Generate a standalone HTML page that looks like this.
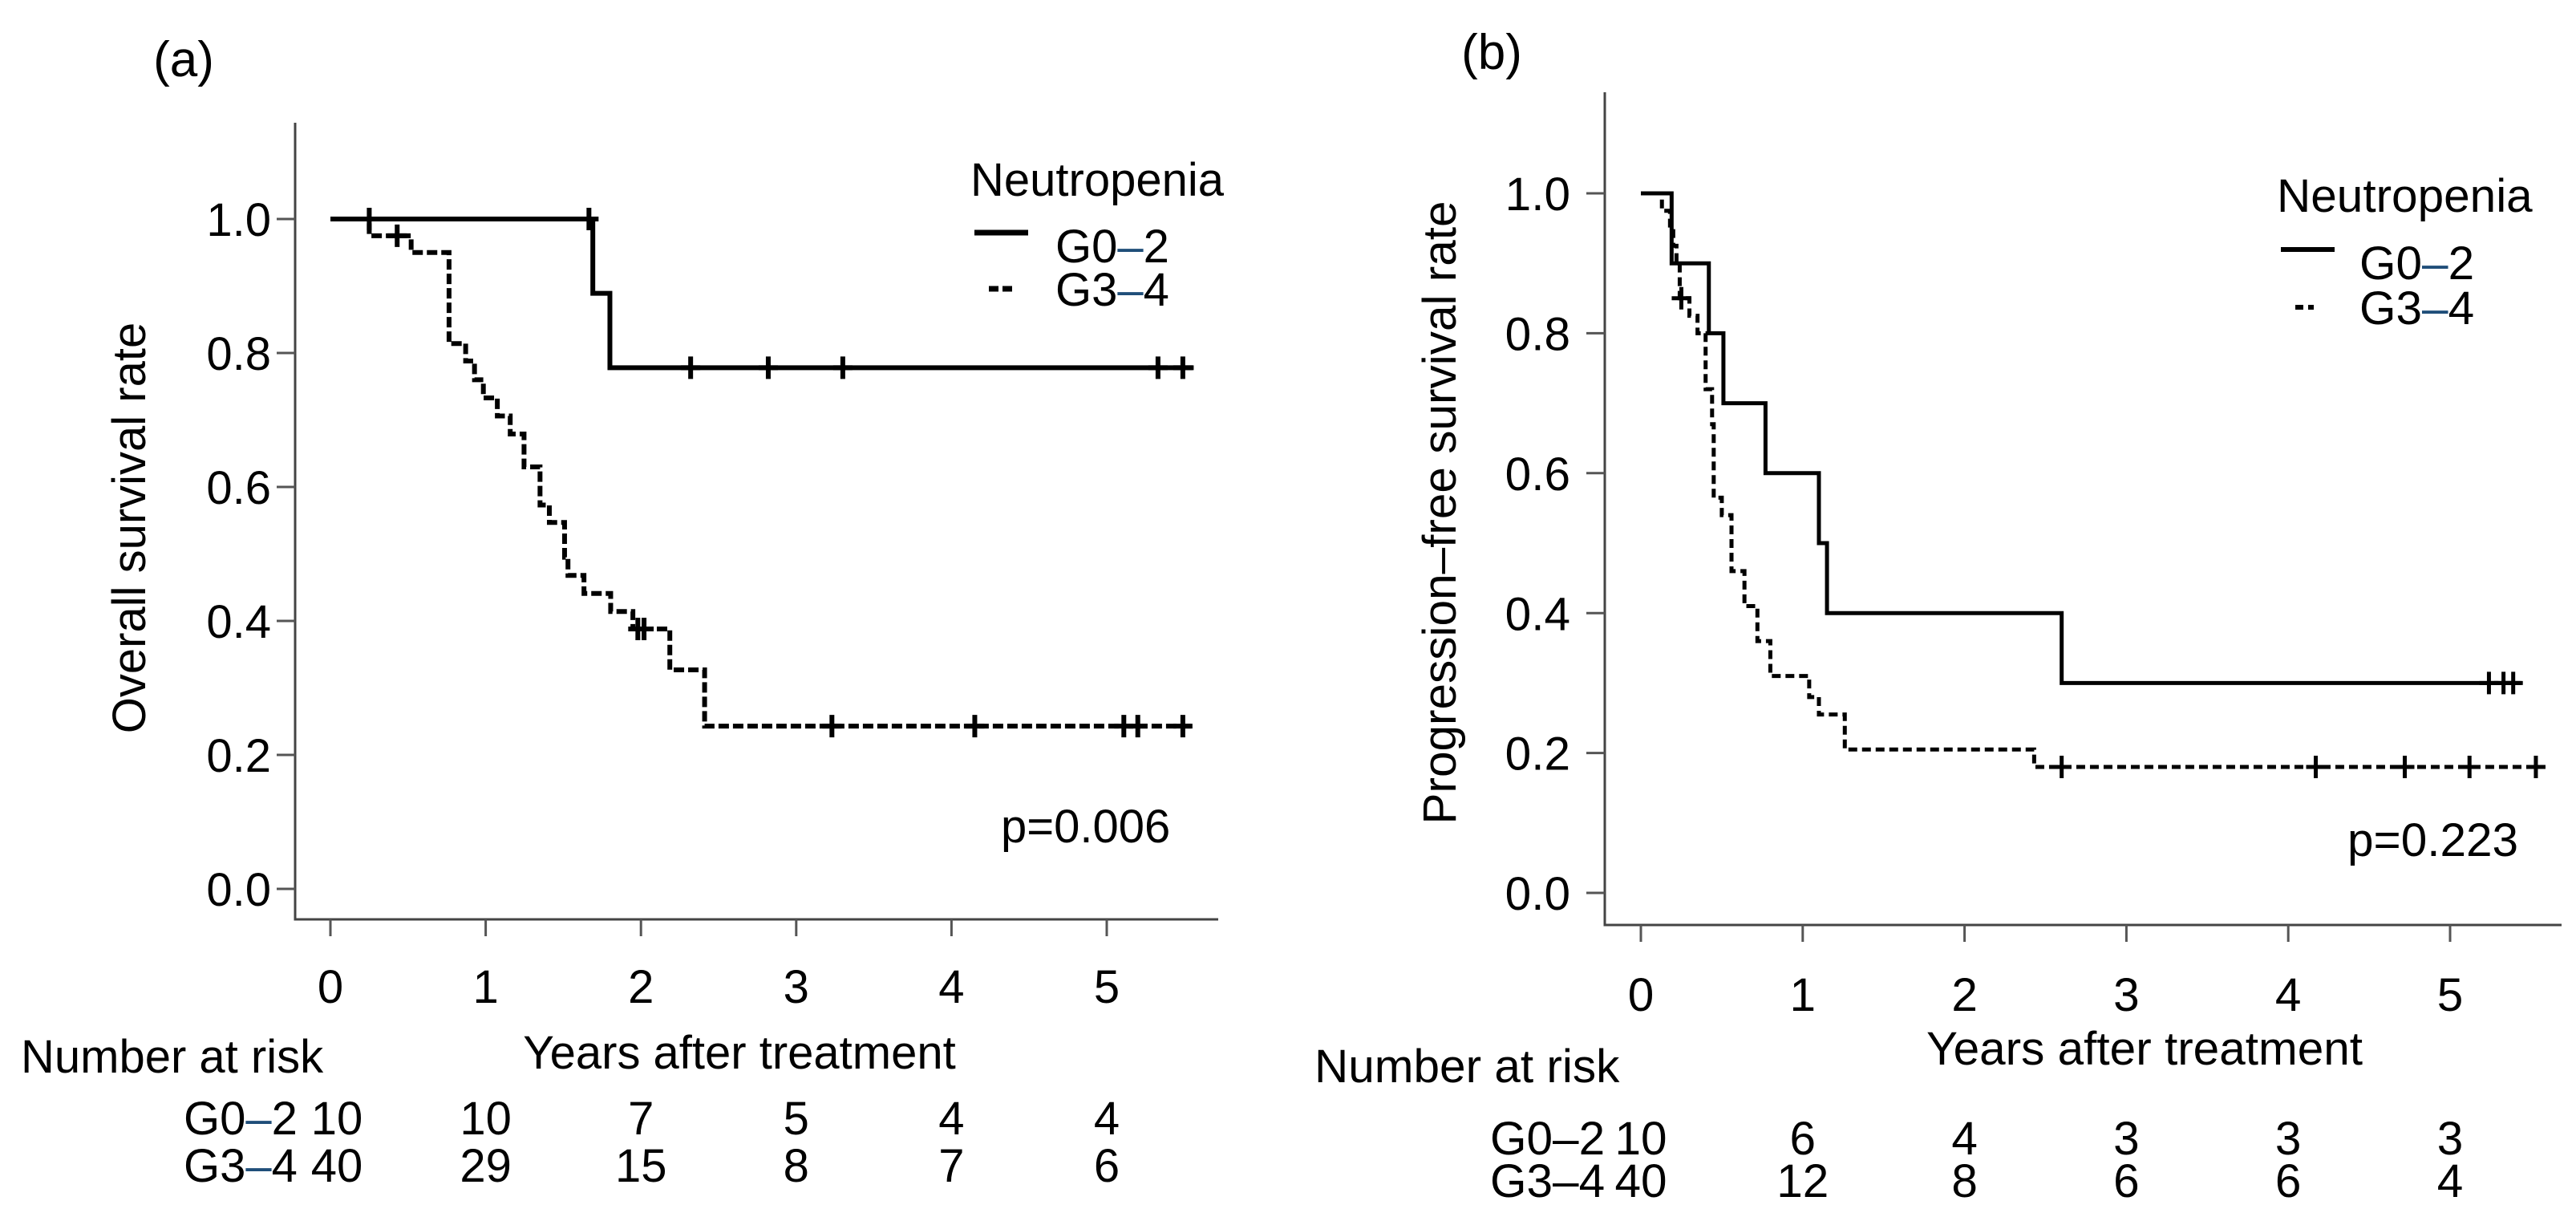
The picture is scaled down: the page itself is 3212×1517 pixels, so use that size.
<!DOCTYPE html>
<html><head><meta charset="utf-8">
<style>
html,body{margin:0;padding:0;background:#fff;}
svg{display:block;font-family:"Liberation Sans",Arial,sans-serif;}
</style></head>
<body>
<svg id="fig" width="3212" height="1517" viewBox="0 0 3212 1517" xmlns="http://www.w3.org/2000/svg">
<rect width="3212" height="1517" fill="#fff"/>
<g id="pa"></g>
<g id="pb"></g>
</svg>
<script>
// Panel (a) overall survival
const aG02Times=[0,1.69,1.80];
const aG02Vals=[1.0,0.889,0.778];
const aG02End=5.56;
const aG02Cens=[0.25,1.665,2.32,2.82,3.30,5.33,5.49];
const aG34Times=[0,0.25,0.52,0.764,0.871,0.928,0.985,1.075,1.158,1.247,1.350,1.410,1.508,1.530,1.633,1.805,1.948,2.186,2.41];
const aG34Vals=[1.0,0.975,0.95,0.814,0.788,0.760,0.733,0.706,0.679,0.630,0.573,0.547,0.495,0.468,0.441,0.414,0.388,0.327,0.243];
const aG34End=5.56;
const aG34Cens=[0.43,1.98,2.02,3.23,4.15,5.11,5.20,5.49];
const aRiskG02=["10","10","7","5","4","4"];
const aRiskG34=["40","29","15","8","7","6"];
// Panel (b) progression-free survival
const bG02Times=[0,0.19,0.42,0.51,0.77,1.10,1.15,2.60];
const bG02Vals=[1.0,0.9,0.8,0.7,0.6,0.5,0.4,0.3];
const bG02End=5.44;
const bG02Cens=[5.24,5.33,5.39];
const bG34Times=[0,0.13,0.18,0.20,0.22,0.24,0.30,0.35,0.40,0.44,0.45,0.50,0.56,0.64,0.72,0.80,1.04,1.10,1.26,2.43];
const bG34Vals=[1.0,0.975,0.95,0.925,0.9,0.85,0.825,0.8,0.72,0.67,0.565,0.54,0.46,0.41,0.36,0.31,0.28,0.255,0.205,0.18];
const bG34End=5.55;
const bG34Cens=[0.25,2.6,4.17,4.72,5.12,5.53];
const bRiskG02=["10","6","4","3","3","3"];
const bRiskG34=["40","12","8","6","6","4"];
const xTicks=[0,1,2,3,4,5];
const yTicks=[0,0.2,0.4,0.6,0.8,1.0];

const NS="http://www.w3.org/2000/svg";
function mk(parent,tag,attrs,text){const e=document.createElementNS(NS,tag);for(const k in attrs)e.setAttribute(k,attrs[k]);if(text!==undefined)e.textContent=text;parent.appendChild(e);return e;}
function stepVal(times,vals,t){let v=vals[0];for(let i=0;i<times.length;i++){if(times[i]<=t)v=vals[i];}return v;}

function panel(g,c){
  const X=t=>c.x0+t*c.xs, Y=v=>c.y0-v*c.ys;
  const ya=mk(g,'line',{x1:c.left,y1:c.top,x2:c.left,y2:c.bottom,stroke:'#444','stroke-width':3});
  
  
  const xa=mk(g,'line',{x1:c.left-1.5,y1:c.bottom,x2:c.right,y2:c.bottom,stroke:'#444','stroke-width':3});
  
  
  yTicks.forEach(v=>{
    const tk=mk(g,'line',{x1:c.left-23,y1:Y(v),x2:c.left,y2:Y(v),stroke:'#555','stroke-width':3});
    
    
    const tl=mk(g,'text',{x:c.ylabR,y:Y(v)+c.fs*0.36,'text-anchor':'end','font-size':c.fs,fill:'#000'},v.toFixed(1));
    
    
  });
  xTicks.forEach(t=>{
    const tk=mk(g,'line',{x1:X(t),y1:c.bottom,x2:X(t),y2:c.bottom+21,stroke:'#555','stroke-width':3});
    
    
    const tl=mk(g,'text',{x:X(t),y:c.xlabY,'text-anchor':'middle','font-size':c.fs,fill:'#000'},String(t));
    
    
  });
  function curve(times,vals,end,cens,dash,name){
    let d='M'+X(times[0])+' '+Y(vals[0]);
    for(let i=1;i<times.length;i++){d+=' H'+X(times[i])+' V'+Y(vals[i]);}
    d+=' H'+X(end);
    const p=mk(g,'path',{d:d,fill:'none',stroke:'#000','stroke-width':c.lw,'stroke-dasharray':dash||'none'});
    
    
    cens.forEach(t=>{
      const v=stepVal(times,vals,t);
      const m=mk(g,'path',{d:'M'+X(t)+' '+(Y(v)-14)+' V'+(Y(v)+14)+' M'+(X(t)-12)+' '+Y(v)+' H'+(X(t)+12),stroke:'#000','stroke-width':c.lw,fill:'none'});
      
      
    });
  }
  curve(c.g02t,c.g02v,c.g02e,c.g02c,null,'g0-2');
  curve(c.g34t,c.g34v,c.g34e,c.g34c,c.dash,'g3-4');
  const t1=mk(g,'text',{x:c.tagX,y:c.tagY,'text-anchor':'middle','font-size':62},c.tag);
  
  
  const t2=mk(g,'text',{x:0,y:0,'text-anchor':'middle','font-size':c.fs,transform:'translate('+c.ytX+','+c.ytY+') rotate(-90) translate(0,'+(c.fs*0.36)+')'},c.ytitle);
  
  
  const t3=mk(g,'text',{x:c.xtX,y:c.xtY,'text-anchor':'middle','font-size':c.fs},'Years after treatment');
  
  
  const t4=mk(g,'text',{x:c.nrX,y:c.nrY,'font-size':c.fs},'Number at risk');
  
  
  const lt=mk(g,'text',{x:c.lgX,y:c.lgY,'font-size':c.fs},'Neutropenia');
  
  
  const l1=mk(g,'line',{x1:c.l1x1,y1:c.l1y,x2:c.l1x2,y2:c.l1y,stroke:'#000','stroke-width':c.lw+1});
  
  
  const lt1=mk(g,'text',{x:c.lt1x,y:c.lt1y,'font-size':c.fs});
  
  
  lt1.innerHTML='G0<tspan fill="#1f4e79">–</tspan>2';
  const l2=mk(g,'line',{x1:c.l2x1,y1:c.l2y,x2:c.l2x2,y2:c.l2y,stroke:'#000','stroke-width':c.lw+1,'stroke-dasharray':c.legDash});
  
  
  const lt2=mk(g,'text',{x:c.lt1x,y:c.lt2y,'font-size':c.fs});
  
  
  lt2.innerHTML='G3<tspan fill="#1f4e79">–</tspan>4';
  const pv=mk(g,'text',{x:c.pX,y:c.pY,'font-size':c.fs},c.p);
  
  
  const dc=c.riskDashColor;
  const r1=mk(g,'text',{x:c.rlX,y:c.r1Y,'font-size':c.fs});
  
  
  r1.innerHTML='G0<tspan fill="'+dc+'">–</tspan>2';
  const r2=mk(g,'text',{x:c.rlX,y:c.r2Y,'font-size':c.fs});
  
  
  r2.innerHTML='G3<tspan fill="'+dc+'">–</tspan>4';
  xTicks.forEach((t,i)=>{
    const off=i===0?c.firstOff:0;
    const a=mk(g,'text',{x:X(t)+off,y:c.r1Y,'text-anchor':'middle','font-size':c.fs},c.rk1[i]);
    
    
    const b=mk(g,'text',{x:X(t)+off,y:c.r2Y,'text-anchor':'middle','font-size':c.fs},c.rk2[i]);
    
    
  });
}

panel(document.getElementById('pa'),{
  x0:412,xs:193.6,y0:1108,ys:835,left:368,bottom:1146,top:153,right:1519,
  fs:58,lw:6,dash:'13 5',legDash:'12 5',ylabR:338,xlabY:1250,
  g02t:aG02Times,g02v:aG02Vals,g02e:aG02End,g02c:aG02Cens,
  g34t:aG34Times,g34v:aG34Vals,g34e:aG34End,g34c:aG34Cens,
  tag:'(a)',tagX:229,tagY:95,ytitle:'Overall survival rate',ytX:160,ytY:658,
  xtX:922,xtY:1332,nrX:26,nrY:1337,
  lgX:1210,lgY:244,l1x1:1215,l1x2:1282,l1y:290,lt1x:1316,lt1y:327,l2x1:1233,l2x2:1262,l2y:360,lt2y:381,
  pX:1248,pY:1050,p:'p=0.006',rlX:229,r1Y:1414,r2Y:1473,rk1:aRiskG02,rk2:aRiskG34,firstOff:8,riskDashColor:'#1f4e79'
});
panel(document.getElementById('pb'),{
  x0:2046,xs:201.8,y0:1113,ys:872,left:2001,bottom:1153,top:115,right:3194,
  fs:58.5,lw:5,dash:'11 6',legDash:'10 6',ylabR:1958,xlabY:1260,
  g02t:bG02Times,g02v:bG02Vals,g02e:bG02End,g02c:bG02Cens,
  g34t:bG34Times,g34v:bG34Vals,g34e:bG34End,g34c:bG34Cens,
  tag:'(b)',tagX:1860,tagY:86,ytitle:'Progression–free survival rate',ytX:1794,ytY:639,
  xtX:2674,xtY:1327,nrX:1639,nrY:1349,
  lgX:2839,lgY:264,l1x1:2844,l1x2:2911,l1y:311,lt1x:2942,lt1y:348,l2x1:2862,l2x2:2885,l2y:383,lt2y:404,
  pX:2927,pY:1067,p:'p=0.223',rlX:1858,r1Y:1439,r2Y:1492,rk1:bRiskG02,rk2:bRiskG34,firstOff:0,riskDashColor:'#000'
});
</script>
</body></html>
